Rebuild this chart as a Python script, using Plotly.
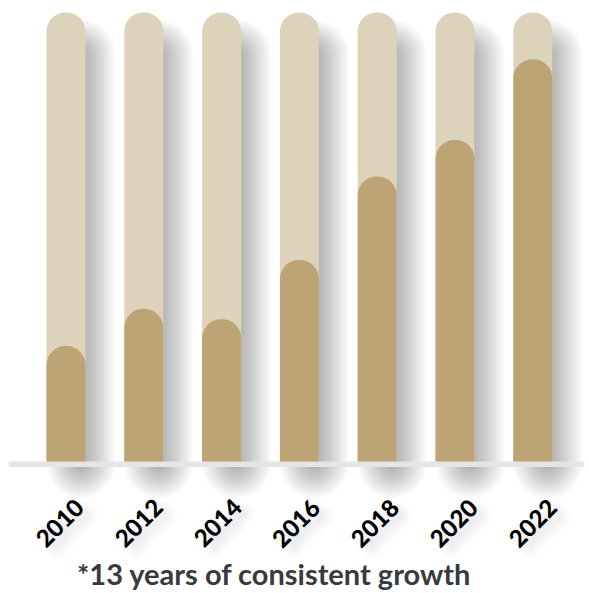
import plotly.graph_objects as go

# ---- data ----
years = ["2010", "2012", "2014", "2016", "2018", "2020", "2022"]
track_values = [100, 100, 100, 100, 100, 100, 100]
growth_values = [25.7, 34.0, 31.7, 44.9, 63.5, 71.6, 89.6]
footnote = "*13 years of consistent growth"

# ---- styling / geometry ----
W, H = 589, 593
PX_X = 77.8          # pixels per category step
PX_Y = 4.49          # pixels per value unit
X0_PX = 66.0         # pixel position of first category
BASE_PX = 461.5      # pixel position of value 0
BAR_PX = 39.0
TRACK = "#ddd2ba"
FILL = "#bda475"

xs = list(range(len(years)))
bar_w = BAR_PX / PX_X

fig = go.Figure()

# soft drop shadow (stack of translucent, growing bars)
N, B, DX, DY, A = 16, 16.0, 15.0, 22.0, 0.02
for k in range(N):
    s = -B + 2 * B * (k + 0.5) / N
    base = -(DY + s) / PX_Y
    top = [v - (DY - s) / PX_Y for v in track_values]
    fig.add_trace(go.Bar(
        x=xs, y=[t - base for t in top], base=base,
        width=(BAR_PX + 2 * s) / PX_X,
        offset=(-BAR_PX / 2 + DX - s) / PX_X,
        marker=dict(color=f"rgba(0,0,0,{A})", line=dict(width=0),
                    cornerradius=max(BAR_PX / 2 + s, 0)),
        hoverinfo="skip", showlegend=False,
    ))

fig.add_trace(go.Bar(
    x=xs, y=track_values, width=bar_w, offset=-bar_w / 2,
    marker=dict(color=TRACK, line=dict(width=0), cornerradius="50%"),
    hoverinfo="skip", showlegend=False,
))
# growth bars on an overlaying axis so each gets its own rounded top
fig.add_trace(go.Bar(
    x=xs, y=growth_values, width=bar_w, offset=-bar_w / 2,
    xaxis="x2",
    marker=dict(color=FILL, line=dict(width=0), cornerradius="50%"),
    hovertemplate="%{customdata}: %{y}<extra></extra>",
    customdata=years, showlegend=False,
))

# baseline
x_left = (11 - X0_PX) / PX_X
x_right = (582 - X0_PX) / PX_X
y_line = -(464.2 - BASE_PX) / PX_Y
fig.add_trace(go.Scatter(
    x=[x_left, x_right], y=[y_line, y_line], mode="lines+markers",
    line=dict(color="#e5e5e7", width=5.5),
    marker=dict(color="#e5e5e7", size=5.5),
    hoverinfo="skip", showlegend=False,
))

# year labels
label_y = -(522 - BASE_PX) / PX_Y
for i, yr in enumerate(years):
    fig.add_annotation(
        x=xs[i], y=label_y, xref="x", yref="y", text=yr,
        textangle=-45, showarrow=False, xshift=-7.2 + 1.07 * i,
        xanchor="center", yanchor="middle",
        font=dict(family="Lato", size=24, color="#000000", weight=900,
                  shadow="2px 10px 10px rgba(0,0,0,0.16)"),
    )

fig.add_annotation(
    x=(273.3 - X0_PX) / PX_X, y=-(593 - BASE_PX) / PX_Y, xref="x", yref="y",
    text=footnote, showarrow=False, xanchor="center", yanchor="bottom",
    font=dict(family="Lato", size=29, color="#393940", weight=700),
)

xrange = [-X0_PX / PX_X, (W - X0_PX) / PX_X]
fig.update_layout(
    width=W, height=H, barmode="group",
    margin=dict(l=0, r=0, t=0, b=0),
    paper_bgcolor="white", plot_bgcolor="white",
    xaxis=dict(visible=False, range=xrange, fixedrange=True),
    xaxis2=dict(visible=False, range=xrange, fixedrange=True, overlaying="x"),
    yaxis=dict(visible=False, range=[-(H - BASE_PX) / PX_Y, BASE_PX / PX_Y], fixedrange=True),
)

fig.write_html("out.html", post_script="document.body.style.margin='0';",
               config={"displayModeBar": False})
